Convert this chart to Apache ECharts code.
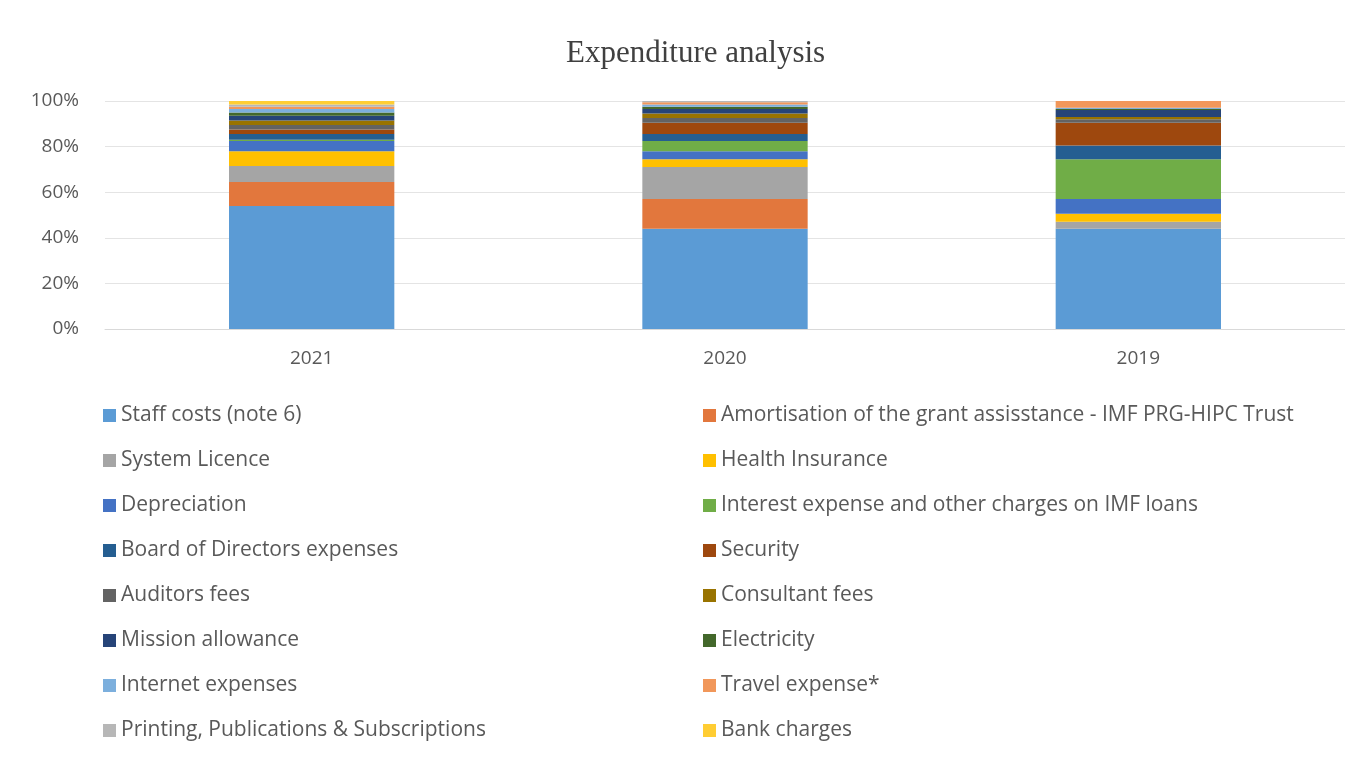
<!DOCTYPE html>
<html>
<head>
<meta charset="utf-8">
<script src="https://cdn.jsdelivr.net/npm/echarts@6/dist/echarts.min.js"></script>
<style>
  html, body { margin: 0; padding: 0; background: #fff; }
  #main { width: 1345px; height: 759px; }
</style>
</head>
<body>
<div id="main"></div>
<script>
var years = ['2021', '2020', '2019'];
var yTicks = [0, 20, 40, 60, 80, 100];

// share of each expense line per year, in %
var staffCosts   = [54, 44, 44];
var amortisation = [10.5, 13, 0];
var systemLic    = [7, 14, 3];
var healthIns    = [6.5, 3.5, 3.5];
var depreciation = [4.5, 3.5, 6.5];
var interestImf  = [0.5, 4.5, 17.5];
var boardExp     = [2.5, 3, 6];
var security     = [2, 5, 10];
var auditors     = [2, 2, 1.5];
var consultant   = [2, 2, 1];
var mission      = [2, 2, 3];
var electricity  = [1.5, 1, 0.5];
var internet     = [1.5, 1, 0.5];
var travel       = [1, 1, 3];
var printing     = [1, 0.5, 0];
var bankCharges  = [1.5, 0, 0];

var seriesDefs = [
    ['Staff costs (note 6)', staffCosts, '#5B9BD5'],
    ['Amortisation of the grant assisstance - IMF PRG-HIPC Trust', amortisation, '#E2773D'],
    ['System Licence', systemLic, '#A5A5A5'],
    ['Health Insurance', healthIns, '#FFC000'],
    ['Depreciation', depreciation, '#4472C4'],
    ['Interest expense and other charges on IMF loans', interestImf, '#70AD47'],
    ['Board of Directors expenses', boardExp, '#255E91'],
    ['Security', security, '#9E480E'],
    ['Auditors fees', auditors, '#636363'],
    ['Consultant fees', consultant, '#997300'],
    ['Mission allowance', mission, '#264478'],
    ['Electricity', electricity, '#43682B'],
    ['Internet expenses', internet, '#7CAFDD'],
    ['Travel expense*', travel, '#F1975A'],
    ['Printing, Publications & Subscriptions', printing, '#B7B7B7'],
    ['Bank charges', bankCharges, '#FFCD33']
];

var leftNames = [], rightNames = [];
var series = [];
seriesDefs.forEach(function (d, i) {
    if (i % 2 === 0) leftNames.push(d[0]); else rightNames.push(d[0]);
    series.push({
        name: d[0],
        type: 'bar',
        stack: 'total',
        barWidth: '40%',
        itemStyle: { color: d[2] },
        data: d[1]
    });
});

var legendText = { color: '#595959', fontSize: 21, fontFamily: 'Open Sans' };

var myChart = echarts.init(document.getElementById('main'));
myChart.setOption({
    animation: false,
    backgroundColor: '#fff',
    title: {
        text: 'Expenditure analysis',
        left: 561,
        top: 33,
        textStyle: { fontFamily: 'Liberation Serif', fontWeight: 'normal', fontSize: 31, color: '#404040' }
    },
    legend: [{
        data: leftNames,
        orient: 'vertical',
        left: 98,
        top: 400,
        itemWidth: 13,
        itemHeight: 13,
        itemGap: 24,
        icon: 'rect',
        textStyle: legendText
    }, {
        data: rightNames,
        orient: 'vertical',
        left: 698,
        top: 400,
        itemWidth: 13,
        itemHeight: 13,
        itemGap: 24,
        icon: 'rect',
        textStyle: legendText
    }],
    grid: { left: 105, right: 0, top: 101, bottom: 430 },
    xAxis: {
        type: 'category',
        data: years,
        axisLine: { lineStyle: { color: '#D9D9D9' } },
        axisTick: { show: false },
        axisLabel: { color: '#595959', fontSize: 19, fontFamily: 'Open Sans', margin: 20 }
    },
    yAxis: {
        type: 'value',
        min: yTicks[0],
        max: yTicks[yTicks.length - 1],
        interval: 20,
        axisLabel: { formatter: '{value}%', color: '#595959', fontSize: 19, fontFamily: 'Open Sans', margin: 26 },
        splitLine: { lineStyle: { color: '#E4E4E4' } }
    },
    series: series
});
</script>
</body>
</html>
